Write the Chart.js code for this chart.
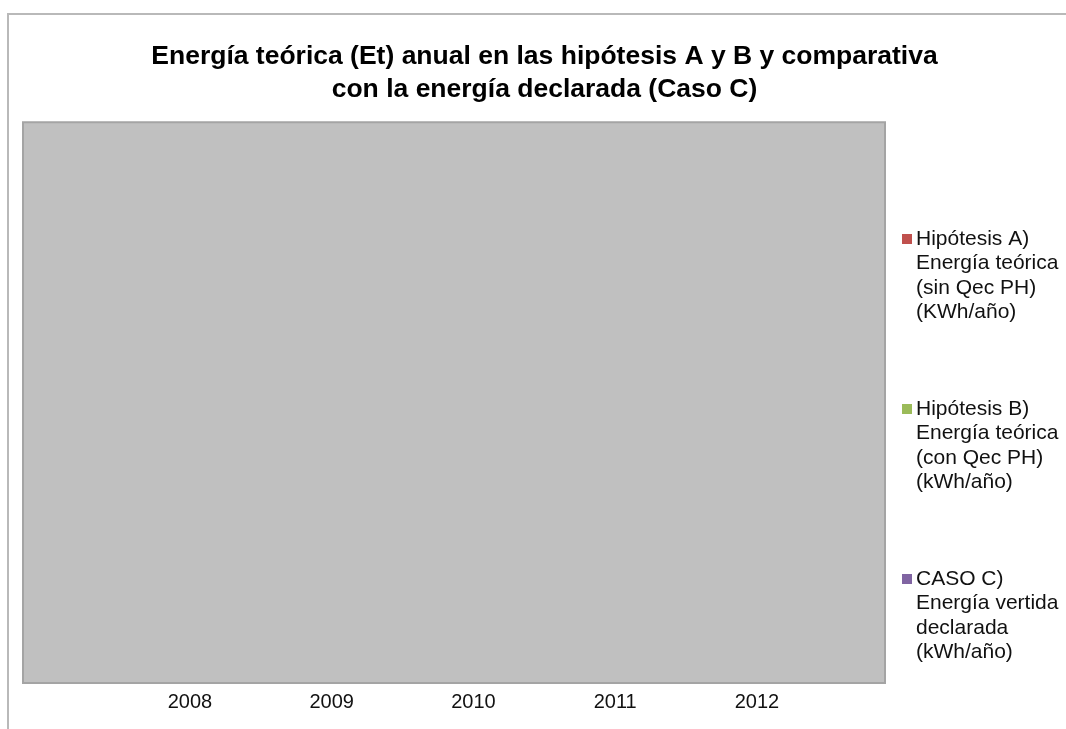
<!DOCTYPE html>
<html lang="es">
<head>
<meta charset="UTF-8">
<title>Energía teórica anual</title>
<script src="https://cdn.jsdelivr.net/npm/chart.js@4.4.1/dist/chart.umd.min.js"></script>
<style>
    html, body { margin: 0; padding: 0; background: #fff; overflow: hidden; }
    #wrap { width: 1066px; height: 729px; }
</style>
</head>
<body>
<div id="wrap"><canvas id="chart"></canvas></div>
<script>
    const years = [2008, 2009, 2010, 2011, 2012];

    // no yearly values are plotted for any of the three series
    const hipotesisA = [null, null, null, null, null];
    const hipotesisB = [null, null, null, null, null];
    const casoC = [null, null, null, null, null];

    const labelA = ['Hipótesis A)', 'Energía teórica', '(sin Qec PH)', '(KWh/año)'];
    const labelB = ['Hipótesis B)', 'Energía teórica', '(con Qec PH)', '(kWh/año)'];
    const labelC = ['CASO C)', 'Energía vertida', 'declarada', '(kWh/año)'];

    const titleLines = [
        'Energía teórica (Et) anual en las hipótesis A y B y comparativa',
        'con la energía declarada (Caso C)'
    ];

    const FONT = '"Liberation Sans", Arial, sans-serif';

    function points(values) {
        return years.map((y, i) => ({ x: y, y: values[i] }));
    }

    // outer frame plus grey plot area
    const framePlugin = {
        id: 'frame',
        beforeDraw(chart) {
            const ctx = chart.ctx;
            const a = chart.chartArea;
            ctx.save();
            ctx.fillStyle = '#b9b9b9';
            ctx.fillRect(7, 13, chart.width, 2);
            ctx.fillRect(7, 13, 2, chart.height);

            ctx.fillStyle = '#c0c0c0';
            ctx.fillRect(a.left, a.top, a.right - a.left, a.bottom - a.top);
            ctx.strokeStyle = '#a4a4a4';
            ctx.lineWidth = 2;
            ctx.strokeRect(a.left, a.top, a.right - a.left, a.bottom - a.top);
            ctx.restore();
        }
    };

    // legend with wrapped labels on the right
    const sideLegend = {
        id: 'sideLegend',
        afterDraw(chart) {
            const ctx = chart.ctx;
            const x0 = 902, y0 = 239, step = 170, lineH = 24.5;
            ctx.save();
            ctx.font = '21px ' + FONT;
            ctx.textBaseline = 'middle';
            ctx.textAlign = 'left';
            chart.data.datasets.forEach((ds, i) => {
                const y = y0 + i * step;
                ctx.fillStyle = ds.backgroundColor;
                ctx.fillRect(x0, y - 5, 10, 10);
                ctx.fillStyle = '#111';
                ds.label.forEach((line, j) => {
                    ctx.fillText(line, x0 + 14, y + j * lineH);
                });
            });
            ctx.restore();
        }
    };

    new Chart(document.getElementById('chart'), {
        type: 'bar',
        data: {
            datasets: [
                { label: labelA, data: points(hipotesisA), backgroundColor: '#C0504D' },
                { label: labelB, data: points(hipotesisB), backgroundColor: '#9BBB59' },
                { label: labelC, data: points(casoC), backgroundColor: '#8064A2' }
            ]
        },
        options: {
            responsive: true,
            maintainAspectRatio: false,
            animation: false,
            layout: { padding: { left: 23, right: 0, top: 0, bottom: 0 } },
            plugins: {
                legend: { display: false },
                tooltip: { enabled: false },
                title: {
                    display: true,
                    text: titleLines,
                    color: '#000',
                    font: { family: FONT, size: 26.5, weight: 'bold', lineHeight: 1.25 },
                    padding: { top: 40, bottom: 16 }
                }
            },
            scales: {
                x: {
                    type: 'linear',
                    offset: false,
                    min: 2006.822,
                    max: 2012.903,
                    grid: { display: false, drawTicks: false, offset: false },
                    border: { display: false },
                    ticks: {
                        color: '#111',
                        font: { family: FONT, size: 20 },
                        padding: 7,
                        callback: v => String(v)
                    },
                    afterBuildTicks: s => { s.ticks = years.map(v => ({ value: v })); },
                    afterFit: s => { s.height = 46; }
                },
                y: {
                    position: 'right',
                    min: 0,
                    max: 1,
                    grid: { display: false, drawTicks: false },
                    border: { display: false },
                    ticks: { display: false },
                    afterFit: s => { s.width = 181; }
                }
            }
        },
        plugins: [framePlugin, sideLegend]
    });
</script>
</body>
</html>
